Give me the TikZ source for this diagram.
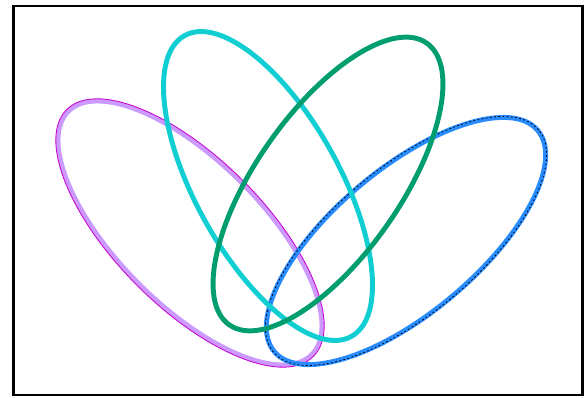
\documentclass[tikz,border=0pt]{standalone}
\definecolor{lilac}{RGB}{204,153,255}
\definecolor{orchid}{RGB}{200,0,210}
\definecolor{skyblue}{RGB}{40,140,255}
\definecolor{aqua}{RGB}{16,206,210}
\definecolor{jade}{RGB}{0,158,110}
\begin{document}
\begin{tikzpicture}[x=0.025cm, y=0.025cm,
    petal/.style={line width=3.5pt}]
    \useasboundingbox (0,0) rectangle (584,398);
    \draw[line width=2.1pt] (13.5,3) rectangle (582.5,392);
    \coordinate (violetset) at (190,165);
    \coordinate (blueset) at (406,157);
    \coordinate (cyanset) at (268,212);
    \coordinate (greenset) at (328,214);
    % lilac band with a thin orchid edge
    \draw[lilac, line width=3.3pt, rotate around={-45:(violetset)}]
        (violetset) ellipse [x radius=172, y radius=72];
    \draw[orchid, line width=0.6pt, rotate around={-45:(violetset)}]
        (violetset) ellipse [x radius=174.5, y radius=74.5];
    % blue band, dotted black line on it
    \draw[skyblue, petal, rotate around={40:(blueset)}]
        (blueset) ellipse [x radius=172, y radius=72];
    \draw[black, line width=0.6pt, dash pattern=on 1.2pt off 1.8pt, rotate around={40:(blueset)}]
        (blueset) ellipse [x radius=173, y radius=73];
    \draw[aqua, petal, rotate around={-61:(cyanset)}]
        (cyanset) ellipse [x radius=172, y radius=72];
    \draw[jade, petal, rotate around={55:(greenset)}]
        (greenset) ellipse [x radius=172, y radius=72];
\end{tikzpicture}
\end{document}
